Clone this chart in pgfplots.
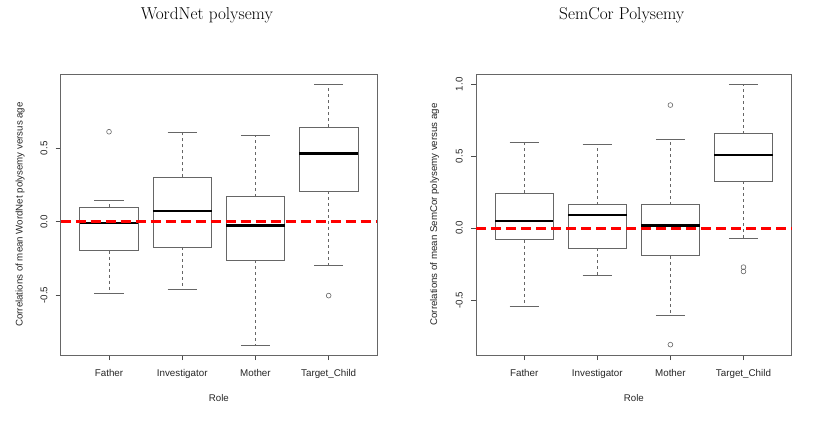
\documentclass[border=0pt]{standalone}
\usepackage{fontspec}
\setsansfont{Liberation Sans}
\usepackage{pgfplots}
\pgfplotsset{compat=1.18}
\usepgfplotslibrary{statistics}

\pgfplotsset{
  rbox/.style={
    black!60, line width=0.7pt, solid,
    boxplot/draw direction=y,
    boxplot/box extend=0.8,
    boxplot/whisker extend=0.4,
    boxplot/every median/.style={black, line width=2.4pt},
    boxplot/draw/lower whisker/.code={%
      \draw[dash pattern=on 3pt off 3pt] (boxplot cs:\pgfplotsboxplotvalue{lower quartile}) -- (boxplot cs:\pgfplotsboxplotvalue{lower whisker});
      \draw[solid] (boxplot whisker cs:\pgfplotsboxplotvalue{lower whisker},0) -- (boxplot whisker cs:\pgfplotsboxplotvalue{lower whisker},1);
    },
    boxplot/draw/upper whisker/.code={%
      \draw[dash pattern=on 3pt off 3pt] (boxplot cs:\pgfplotsboxplotvalue{upper quartile}) -- (boxplot cs:\pgfplotsboxplotvalue{upper whisker});
      \draw[solid] (boxplot whisker cs:\pgfplotsboxplotvalue{upper whisker},0) -- (boxplot whisker cs:\pgfplotsboxplotvalue{upper whisker},1);
    },
  },
  rout/.style={only marks, mark=o, mark size=2.4pt, black!60, mark options={line width=0.6pt}},
  zeroline/.style={red, line width=2.8pt, dash pattern=on 10pt off 5pt},
  rpanel/.style={
    scale only axis, height=281pt,
    xmin=0.34, xmax=4.66,
    xtick={1,2,3,4}, xticklabels={Father,Investigator,Mother,Target\_Child},
    tick align=outside, tick pos=left, major tick length=5pt,
    tick style={black!70, line width=0.6pt},
    axis line style={black!60, line width=0.8pt},
    /pgf/number format/assume math mode=true,
    ticklabel style={font=\sffamily\fontsize{9.8}{11}\selectfont, inner sep=0pt, text=black!85},
    yticklabel style={rotate=90, anchor=south},
    yticklabel shift=8pt,
    xticklabel shift=9pt,
    label style={font=\sffamily\fontsize{9.7}{11}\selectfont, text=black!85},
    xlabel style={at={(axis description cs:0.5,-0.152)}, anchor=center},
    title style={font=\fontsize{17.2}{20}\selectfont, anchor=base, yshift=0pt},
    clip=false,
  },
}

\begin{document}
\begin{tikzpicture}
\useasboundingbox (0,0) rectangle (830pt,434pt);

% ---------------- WordNet polysemy ----------------
\begin{axis}[rpanel,
  at={(60.7pt,79pt)}, anchor=south west, width=316.3pt,
  ymin=-0.907, ymax=1.005,
  ytick={-0.5,0,0.5}, yticklabels={-0.5,0.0,0.5},
  xlabel={Role},
  ylabel={Correlations of mean WordNet polysemy versus age},
  ylabel style={at={(axis description cs:-0.1287,0.5)}, anchor=center},
  title={WordNet polysemy},
  title style={at={(axis description cs:0.462,1.173)}},
]
\addplot[rbox, boxplot prepared={draw position=1, median=-0.009, upper quartile=0.100, lower quartile=-0.197, upper whisker=0.148, lower whisker=-0.490}] coordinates {};
\addplot[rbox, boxplot prepared={draw position=2, median=0.073, upper quartile=0.302, lower quartile=-0.172, upper whisker=0.606, lower whisker=-0.458}] coordinates {};
\addplot[rbox, boxplot prepared={draw position=3, median=-0.025, upper quartile=0.170, lower quartile=-0.261, upper whisker=0.585, lower whisker=-0.839}] coordinates {};
\addplot[rbox, boxplot prepared={draw position=4, median=0.463, upper quartile=0.644, lower quartile=0.207, upper whisker=0.935, lower whisker=-0.295}] coordinates {};
\addplot[rout] coordinates {(1,0.612) (4,-0.503)};
\addplot[zeroline] coordinates {(0.34,0) (4.66,0)};
\end{axis}

% ---------------- SemCor Polysemy ----------------
\begin{axis}[rpanel,
  at={(476pt,79pt)}, anchor=south west, width=315.7pt,
  ymin=-0.882, ymax=1.072,
  ytick={-0.5,0,0.5,1}, yticklabels={-0.5,0.0,0.5,1.0},
  xlabel={Role},
  ylabel={Correlations of mean SemCor polysemy versus age},
  ylabel style={at={(axis description cs:-0.1308,0.5)}, anchor=center},
  title={SemCor Polysemy},
  title style={at={(axis description cs:0.4615,1.173)}},
]
\addplot[rbox, boxplot prepared={draw position=1, median=0.051, upper quartile=0.243, lower quartile=-0.081, upper whisker=0.599, lower whisker=-0.547}] coordinates {};
\addplot[rbox, boxplot prepared={draw position=2, median=0.092, upper quartile=0.164, lower quartile=-0.139, upper whisker=0.585, lower whisker=-0.327}] coordinates {};
\addplot[rbox, boxplot prepared={draw position=3, median=0.018, upper quartile=0.164, lower quartile=-0.192, upper whisker=0.616, lower whisker=-0.607}] coordinates {};
\addplot[rbox, boxplot prepared={draw position=4, median=0.507, upper quartile=0.657, lower quartile=0.326, upper whisker=1.000, lower whisker=-0.074}] coordinates {};
\addplot[rout] coordinates {(3,0.856) (3,-0.810) (4,-0.271) (4,-0.301)};
\addplot[zeroline] coordinates {(0.34,0) (4.66,0)};
\end{axis}
\end{tikzpicture}
\end{document}
